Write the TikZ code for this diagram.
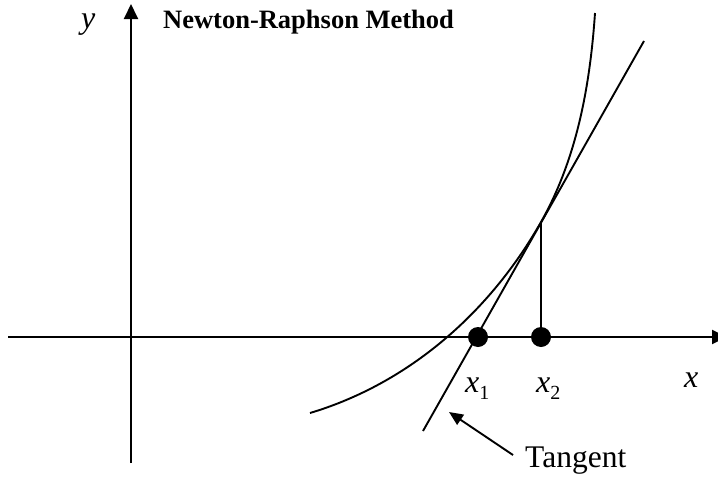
\documentclass[tikz,border=0pt]{standalone}
\usepackage{fontspec}
\setmainfont{Liberation Serif}
\usetikzlibrary{arrows.meta}
\begin{document}
\begin{tikzpicture}[x=1pt,y=-1pt,
  axisline/.style={line width=1.9pt,-{Triangle[length=15pt,width=14pt]}},
  curveline/.style={line width=1.9pt},
  dot/.style={circle,fill=black,minimum size=20pt,inner sep=0pt},
  lab/.style={inner sep=0pt,anchor=base west,font=\fontsize{32}{36}\selectfont\itshape},
]
\useasboundingbox (0,0) rectangle (718,477);
\clip (0,0) rectangle (718,477);
% axes
\coordinate (xs) at (8,337);
\coordinate (xe) at (727,337);
\coordinate (ys) at (131,463);
\coordinate (ye) at (131,4);
\draw[axisline] (xs) -- (xe);
\draw[axisline] (ys) -- (ye);
% curve
\coordinate (P0) at (310,413);
\coordinate (T) at (541,222);
\coordinate (P3) at (595,13);
\draw[curveline] (P0) .. controls (409.2,383.3) and (489.9,312.1) .. (T)
  .. controls (576.9,158.6) and (590,85.8) .. (P3);
% tangent line
\coordinate (L) at (423,431);
\coordinate (U) at (644,41);
\draw[curveline] (L) -- (U);
% dots
\node[dot] (d1) at (478,337) {};
\node[dot] (d2) at (541,337) {};
\draw[curveline] (d2.center) -- (T);
% labels
\node[inner sep=0pt,anchor=base west,font=\fontsize{26.5}{30}\selectfont\bfseries] (title) at (163,28) {Newton-Raphson Method};
\node[lab] (ylab) at (81,28) {y};
\node[lab] (x1lab) at (465,392) {x\raisebox{-7pt}{\fontsize{20}{22}\selectfont\upshape 1}};
\node[lab] (x2lab) at (536,392) {x\raisebox{-7pt}{\fontsize{20}{22}\selectfont\upshape 2}};
\node[lab] (xlab) at (684,387) {x};
\node[inner sep=0pt,anchor=base west,font=\fontsize{31.5}{36}\selectfont] (tanlab) at (525,467) {Tangent};
% tangent pointer
\coordinate (ta) at (513,455);
\coordinate (tb) at (449,412);
\draw[line width=1.9pt,-{Triangle[length=14pt,width=12pt]}] (ta) -- (tb);
\end{tikzpicture}
\end{document}
